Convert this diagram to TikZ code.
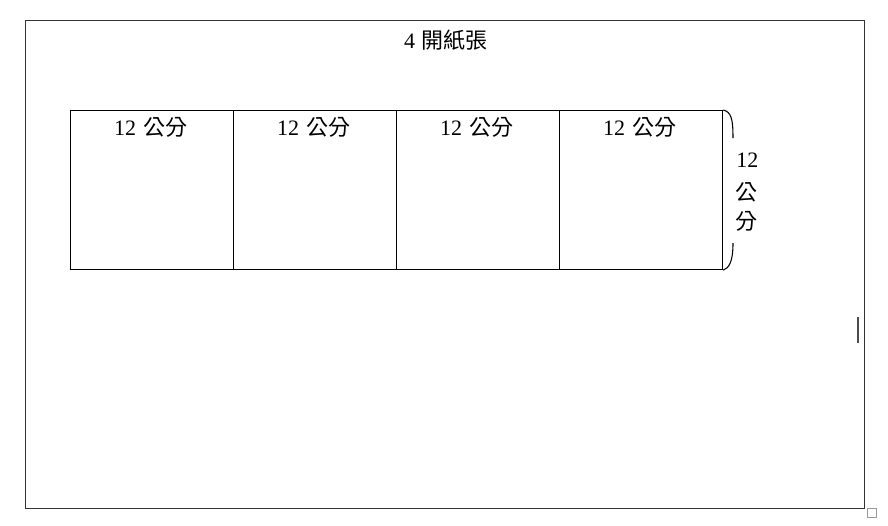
\documentclass[tikz,border=0pt]{standalone}
\usepackage{fontspec}
\setmainfont{Liberation Serif}
\newfontfamily\cjk{Noto Sans CJK TC}
\begin{document}
\begin{tikzpicture}[x=0.75pt,y=-0.75pt,
  frame/.style={draw=black!80,line width=1.1pt},
  cell/.style={draw=black,line width=0.9pt,minimum width=122.25pt,minimum height=119.25pt,anchor=north west,inner sep=0pt},
  lbl/.style={font=\fontsize{16.5}{18}\selectfont,inner sep=0pt},
  ui/.style={draw=black!40,line width=0.6pt}]
\useasboundingbox (0,0) rectangle (888,525);
% page frame
\node[frame,minimum width=629.25pt,minimum height=366pt,anchor=north west,inner sep=0pt] (page) at (25,20) {};
\node[lbl] (title) at (446,40) {4\hspace{0.3em}{\cjk 開紙張}};
% four squares
\node[cell] (s1) at (70,110) {};
\node[cell] (s2) at (233,110) {};
\node[cell] (s3) at (396,110) {};
\node[cell] (s4) at (559,110) {};
\foreach \i/\x in {1/151,2/314,3/477,4/640}{
  \node[lbl] (t\i) at (\x,127) {12\hspace{0.35em}{\cjk 公分}};
}
% brace
\coordinate (bt) at (733,138);
\coordinate (bb) at (733,243);
\draw[line width=0.8pt] (s4.north east) .. controls (731,112) and (733,118) .. (bt);
\draw[line width=0.8pt] (bb) .. controls (733,262) and (729,268) .. (s4.south east);
\node[lbl,anchor=west] (v1) at (736,160) {12};
\node[lbl,anchor=west] (v2) at (735,192) {\cjk 公};
\node[lbl,anchor=west] (v3) at (735,221) {\cjk 分};
% editor marks
\draw[ui,line width=1pt,black!70] (858,317) -- (858,343);
\node[ui,minimum width=7pt,minimum height=7pt,inner sep=0pt,anchor=north west] (h) at (867,508) {};
\end{tikzpicture}
\end{document}
